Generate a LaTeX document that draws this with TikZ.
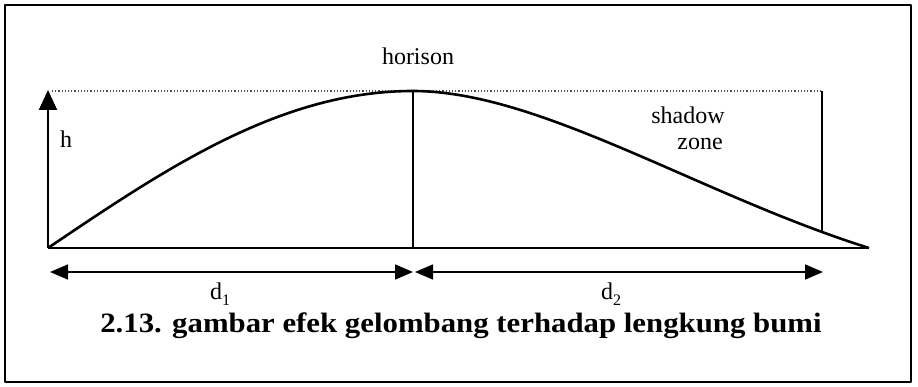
\documentclass[tikz,border=0pt]{standalone}
\usepackage{fontspec}
\setmainfont{Liberation Serif}
\usetikzlibrary{arrows.meta}
\begin{document}
\begin{tikzpicture}[x=1pt,y=-1pt,line join=round,
  lbl/.style={font=\fontsize{24}{28}\selectfont, inner sep=0pt},
  capt/.style={font=\fontsize{28}{32}\selectfont\bfseries, inner sep=0pt},
  mainline/.style={line width=2pt},
  curveline/.style={line width=2.6pt},
  vline/.style={line width=1.6pt},
  dotline/.style={dotted, line width=1.2pt, black!70},
  bigtip/.style={-{Triangle[length=20pt,width=18pt]}},
  dimtip/.style={{Triangle[length=18pt,width=15pt]}-{Triangle[length=18pt,width=15pt]}, line width=1.6pt}]
\useasboundingbox (0,0) rectangle (918,387);
\fill[white] (0,0) rectangle (918,387);
\draw[line width=2pt] (5,5) rectangle (911,382);
% key points
\coordinate (O) at (48,248);
\coordinate (T) at (48,90);
\coordinate (DL) at (52,91);
\coordinate (P) at (413,91);
\coordinate (PB) at (413,248);
\coordinate (E) at (869,248);
\coordinate (R) at (822,91);
\coordinate (RB) at (822,231);
\coordinate (A1) at (50,272);
\coordinate (A2) at (413,272);
\coordinate (A3) at (415,272);
\coordinate (A4) at (823,272);
% dotted horizon level
\draw[dotline] (DL) -- (R);
% ground line
\draw[mainline] (O) -- (E);
% height arrow
\draw[mainline,bigtip] (O) -- (T);
% verticals
\draw[vline] (P) -- (PB);
\draw[vline] (R) -- (RB);
% earth curvature
\draw[curveline] (O) .. controls (167,167.6) and (281,91) .. (P);
\draw[curveline] (P) .. controls (540,91) and (700,195) .. (E);
% distance arrows
\draw[dimtip] (A1) -- (A2);
\draw[dimtip] (A3) -- (A4);
% labels
\node[lbl,anchor=base] (hor) at (418,65) {horison};
\node[lbl,anchor=base west] (h) at (60,148) {h};
\node[lbl,anchor=base] (sh) at (688,124) {shadow};
\node[lbl,anchor=base] (zn) at (700,150) {zone};
\node[lbl,anchor=base] (d1) at (220,300) {d\raisebox{-0.22em}{\fontsize{16}{16}\selectfont 1}};
\node[lbl,anchor=base] (d2) at (611,300) {d\raisebox{-0.22em}{\fontsize{16}{16}\selectfont 2}};
\node[capt,anchor=base] (cap) at (461,332) {\scalebox{1.1}[1]{2.13. gambar efek gelombang terhadap lengkung bumi}};
\end{tikzpicture}
\end{document}
